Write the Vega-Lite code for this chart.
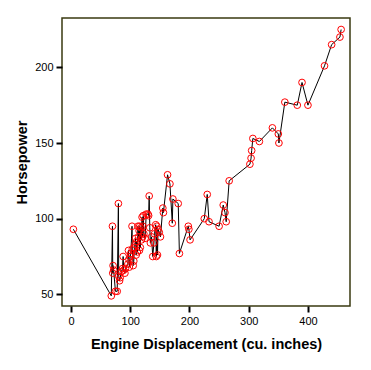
{
  "$schema": "https://vega.github.io/schema/vega-lite/v6.json",
  "width": 288,
  "height": 288,
  "autosize": {"type": "none"},
  "padding": {"left": 62, "top": 18, "right": 21, "bottom": 64},
  "background": "white",
  "config": {
    "view": {"stroke": "#3a3a10", "strokeWidth": 1.5, "fill": "white"},
    "font": "Liberation Sans",
    "axis": {
      "domain": false,
      "grid": false,
      "ticks": true,
      "tickColor": "black",
      "tickWidth": 2,
      "tickSize": 6,
      "labelColor": "black",
      "labelFont": "Liberation Sans",
      "labelFontSize": 11,
      "labelPadding": 3,
      "titleFont": "Liberation Sans",
      "titleFontWeight": "bold",
      "titleFontSize": 14.5,
      "titleColor": "black"
    }
  },
  "data": {
    "values": [
      {"disp": 4, "hp": 93},
      {"disp": 68, "hp": 49},
      {"disp": 70, "hp": 95},
      {"disp": 70.5, "hp": 64},
      {"disp": 71, "hp": 69},
      {"disp": 72, "hp": 66},
      {"disp": 75, "hp": 52},
      {"disp": 78, "hp": 52},
      {"disp": 80, "hp": 110},
      {"disp": 80.5, "hp": 62},
      {"disp": 82, "hp": 59},
      {"disp": 83, "hp": 61},
      {"disp": 85, "hp": 65},
      {"disp": 87, "hp": 67},
      {"disp": 88, "hp": 75},
      {"disp": 89, "hp": 66},
      {"disp": 91, "hp": 64},
      {"disp": 92, "hp": 67},
      {"disp": 96, "hp": 70},
      {"disp": 97, "hp": 79},
      {"disp": 98, "hp": 73},
      {"disp": 98.5, "hp": 68},
      {"disp": 100, "hp": 75},
      {"disp": 101, "hp": 77},
      {"disp": 103, "hp": 95},
      {"disp": 103.5, "hp": 80},
      {"disp": 105, "hp": 69},
      {"disp": 106, "hp": 72},
      {"disp": 107, "hp": 81},
      {"disp": 108, "hp": 83},
      {"disp": 109, "hp": 87},
      {"disp": 110, "hp": 76},
      {"disp": 111, "hp": 85},
      {"disp": 112, "hp": 78},
      {"disp": 113, "hp": 95},
      {"disp": 114, "hp": 88},
      {"disp": 115, "hp": 92},
      {"disp": 115.5, "hp": 79},
      {"disp": 116, "hp": 95},
      {"disp": 117, "hp": 81},
      {"disp": 118, "hp": 94},
      {"disp": 119, "hp": 86},
      {"disp": 120, "hp": 101},
      {"disp": 121, "hp": 88},
      {"disp": 121.5, "hp": 95},
      {"disp": 122, "hp": 102},
      {"disp": 123, "hp": 90},
      {"disp": 125, "hp": 87},
      {"disp": 127, "hp": 103},
      {"disp": 130, "hp": 103},
      {"disp": 131, "hp": 102},
      {"disp": 132, "hp": 115},
      {"disp": 133, "hp": 94},
      {"disp": 134, "hp": 84},
      {"disp": 136, "hp": 88},
      {"disp": 138, "hp": 75},
      {"disp": 140, "hp": 84},
      {"disp": 141, "hp": 90},
      {"disp": 143, "hp": 96},
      {"disp": 144, "hp": 75},
      {"disp": 145, "hp": 95},
      {"disp": 146, "hp": 76},
      {"disp": 147, "hp": 93},
      {"disp": 149, "hp": 91},
      {"disp": 151, "hp": 88},
      {"disp": 155, "hp": 107},
      {"disp": 156, "hp": 104},
      {"disp": 163, "hp": 129},
      {"disp": 167, "hp": 123},
      {"disp": 171, "hp": 97},
      {"disp": 172, "hp": 113},
      {"disp": 181, "hp": 110},
      {"disp": 183, "hp": 77},
      {"disp": 198, "hp": 95},
      {"disp": 199, "hp": 93},
      {"disp": 201, "hp": 86},
      {"disp": 225, "hp": 100},
      {"disp": 230, "hp": 116},
      {"disp": 233, "hp": 98},
      {"disp": 250, "hp": 95},
      {"disp": 257, "hp": 109},
      {"disp": 260, "hp": 104},
      {"disp": 262, "hp": 98},
      {"disp": 267, "hp": 125},
      {"disp": 302, "hp": 136},
      {"disp": 304, "hp": 140},
      {"disp": 305, "hp": 145},
      {"disp": 307, "hp": 153},
      {"disp": 318, "hp": 151},
      {"disp": 340, "hp": 160},
      {"disp": 350, "hp": 156},
      {"disp": 351, "hp": 150},
      {"disp": 361, "hp": 177},
      {"disp": 382, "hp": 175},
      {"disp": 390, "hp": 190},
      {"disp": 400, "hp": 175},
      {"disp": 428, "hp": 201},
      {"disp": 440, "hp": 215},
      {"disp": 454, "hp": 220},
      {"disp": 456, "hp": 225}
    ]
  },
  "encoding": {
    "x": {
      "field": "disp",
      "type": "quantitative",
      "scale": {"domain": [-15.2, 471], "nice": false, "zero": false},
      "axis": {"values": [0, 100, 200, 300, 400], "title": "Engine Displacement (cu. inches)", "titlePadding": 11}
    },
    "y": {
      "field": "hp",
      "type": "quantitative",
      "scale": {"domain": [42.3, 232.6], "nice": false, "zero": false},
      "axis": {"values": [50, 100, 150, 200], "title": "Horsepower", "titlePadding": 5}
    }
  },
  "layer": [
    {"mark": {"type": "line", "color": "black", "strokeWidth": 1, "interpolate": "linear"}},
    {"mark": {"type": "point", "shape": "circle", "filled": false, "color": "#ff0000", "size": 45, "strokeWidth": 1, "opacity": 1}}
  ]
}
